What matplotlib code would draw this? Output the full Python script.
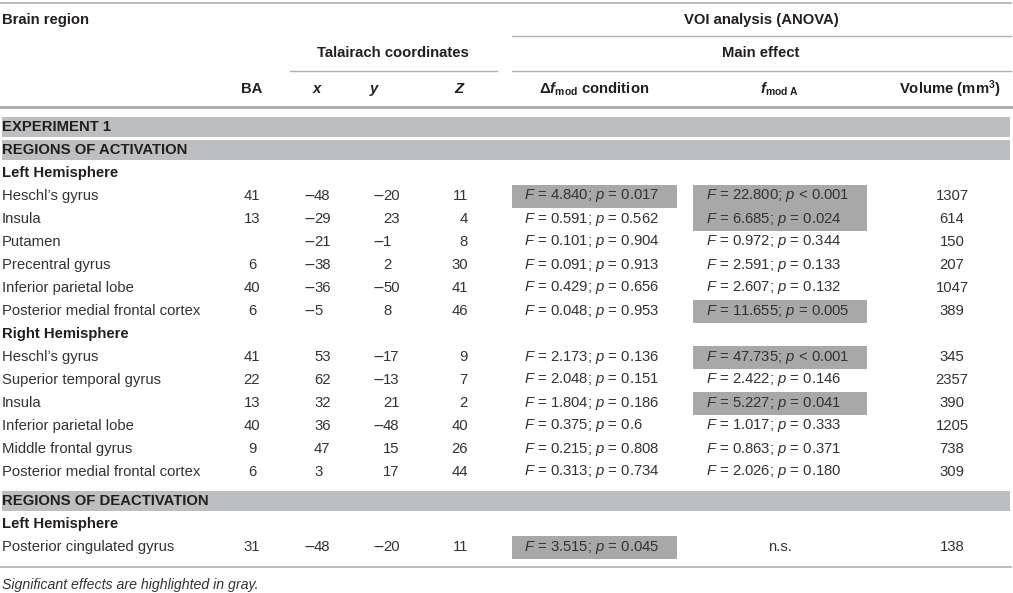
import matplotlib
matplotlib.use("Agg")
import matplotlib.pyplot as plt

plt.rcParams['font.family'] = ['Liberation Sans', 'DejaVu Sans']
plt.rcParams['mathtext.fontset'] = 'custom'
plt.rcParams['mathtext.rm'] = 'Liberation Sans'
plt.rcParams['mathtext.it'] = 'Liberation Sans:italic'
plt.rcParams['mathtext.bf'] = 'Liberation Sans:bold'
plt.rcParams['mathtext.bfit'] = 'Liberation Sans:italic:bold'

# ---- table data ----
regions = ["Heschl\u2019s gyrus", "Insula", "Putamen", "Precentral gyrus",
           "Inferior parietal lobe", "Posterior medial frontal cortex",
           "Heschl\u2019s gyrus", "Superior temporal gyrus", "Insula",
           "Inferior parietal lobe", "Middle frontal gyrus",
           "Posterior medial frontal cortex",
           "Posterior cingulated gyrus"]
ba = ["41", "13", "", "6", "40", "6", "41", "22", "13", "40", "9", "6", "31"]
tal_x = [-48, -29, -21, -38, -36, -5, 53, 62, 32, 36, 47, 3, -48]
tal_y = [-20, 23, -1, 2, -50, 8, -17, -13, 21, -48, 15, 17, -20]
tal_z = [11, 4, 8, 30, 41, 46, 9, 7, 2, 40, 26, 44, 11]
cond_F = ["4.840", "0.591", "0.101", "0.091", "0.429", "0.048",
          "2.173", "2.048", "1.804", "0.375", "0.215", "0.313", "3.515"]
cond_p = ["= 0.017", "= 0.562", "= 0.904", "= 0.913", "= 0.656", "= 0.953",
          "= 0.136", "= 0.151", "= 0.186", "= 0.6", "= 0.808", "= 0.734",
          "= 0.045"]
cond_sig = [1, 0, 0, 0, 0, 0, 0, 0, 0, 0, 0, 0, 1]
modA_F = ["22.800", "6.685", "0.972", "2.591", "2.607", "11.655",
          "47.735", "2.422", "5.227", "1.017", "0.863", "2.026", None]
modA_p = ["< 0.001", "= 0.024", "= 0.344", "= 0.133", "= 0.132", "= 0.005",
          "< 0.001", "= 0.146", "= 0.041", "= 0.333", "= 0.371", "= 0.180",
          None]
modA_sig = [1, 1, 0, 0, 0, 1, 1, 0, 1, 0, 0, 0, 0]
volume = ["1307", "614", "150", "207", "1047", "389",
          "345", "2357", "390", "1205", "738", "309", "138"]

layout = [("band", "EXPERIMENT 1"), ("band", "REGIONS OF ACTIVATION"),
          ("group", "Left Hemisphere")] + [("data", i) for i in range(6)] + \
         [("group", "Right Hemisphere")] + [("data", i) for i in range(6, 12)] + \
         [("band", "REGIONS OF DEACTIVATION"), ("group", "Left Hemisphere"),
          ("data", 12)]

W, H = 1013, 593
fig = plt.figure(figsize=(W / 100, H / 100), dpi=100)
ax = fig.add_axes([0, 0, 1, 1])
ax.set_xlim(0, W)
ax.set_ylim(H, 0)
ax.axis('off')

txt = '#333333'
head = '#231f20'
band_c = '#bdbec0'
hl_c = '#a8a8a8'
line_c = '#b0b0b0'
fs = 10.7

# ---- header ----
ax.plot([0, 1011], [3, 3], color=line_c, lw=1.2)
ax.plot([512, 1011], [36, 36], color=line_c, lw=1.0)
ax.plot([290, 497], [71, 71], color=line_c, lw=1.0)
ax.plot([512, 1011], [71, 71], color=line_c, lw=1.0)
ax.plot([0, 1011], [107, 107], color=line_c, lw=2.2)

hb = dict(fontsize=fs, fontweight='bold', color=head, va='center')
ax.text(2, 20, "Brain region", ha='left', **hb)
ax.text(761, 20, "VOI analysis (ANOVA)", ha='center', **hb)
ax.text(393, 53, "Talairach coordinates", ha='center', **hb)
ax.text(761, 53, "Main effect", ha='center', **hb)
ax.text(252, 89, "BA", ha='center', **hb)
ax.text(317, 89, "x", ha='center', style='italic', **hb)
ax.text(374, 89, "y", ha='center', style='italic', **hb)
ax.text(459, 89, "Z", ha='center', style='italic', **hb)
ax.text(594, 89, r"$\mathbf{\Delta}\mathbfit{f}_{\mathbf{mod}}$ condition", ha='center', **hb)
ax.text(780, 89, r"$\mathbfit{f}_{\mathbf{mod\ A}}$", ha='center', **hb)
ax.text(950, 89, r"Volume (mm$^{\mathbf{3}}$)", ha='center', **hb)


def coord(xd, yc, v, rt):
    # digits left aligned, minus sign hangs to the left
    ax.text(xd, yc, "%d" % abs(v), ha='left', **rt)
    if v < 0:
        ax.text(xd + 1, yc, "\u2212", ha='right', family='DejaVu Sans',
                fontsize=fs * 0.95, color=txt, va='center')


# ---- body ----
yy = 127
prev = None
for kind, val in layout:
    if kind == "band" and prev == "data":
        yy += 6
    if kind == "band":
        ax.add_patch(plt.Rectangle((2, yy - 10), 1008, 20, color=band_c, lw=0))
        ax.text(2, yy, val, ha='left', **hb)
    elif kind == "group":
        ax.text(2, yy, val, ha='left', **hb)
    else:
        i = val
        rt = dict(fontsize=fs, color=txt, va='center')
        ax.text(2, yy, regions[i], ha='left', **rt)
        ax.text(252, yy, ba[i], ha='center', **rt)
        coord(314, yy, tal_x[i], rt)
        coord(383, yy, tal_y[i], rt)
        ax.text(468, yy, "%d" % tal_z[i], ha='right', **rt)
        if cond_sig[i]:
            ax.add_patch(plt.Rectangle((512, yy - 11), 165, 23, color=hl_c, lw=0))
        ax.text(524, yy, r"$F$ = %s; $p$ %s" % (cond_F[i], cond_p[i]), ha='left', **rt)
        if modA_sig[i]:
            ax.add_patch(plt.Rectangle((693, yy - 11), 174, 23, color=hl_c, lw=0))
        if modA_F[i] is None:
            ax.text(780, yy, "n.s.", ha='center', **rt)
        else:
            ax.text(706, yy, r"$F$ = %s; $p$ %s" % (modA_F[i], modA_p[i]), ha='left', **rt)
        ax.text(952, yy, volume[i], ha='center', **rt)
    prev = kind
    yy += 23

ax.plot([0, 1011], [567, 567], color=line_c, lw=1.2)
ax.text(2, 585, "Significant effects are highlighted in gray.", ha='left',
        va='center', fontsize=fs * 0.95, style='italic', color=txt)

plt.savefig('out.png', dpi=100)
